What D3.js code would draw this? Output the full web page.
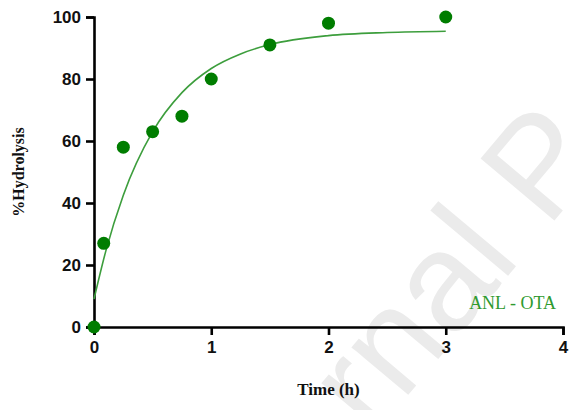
<!DOCTYPE html>
<html>
<head>
<meta charset="utf-8">
<script src="https://cdn.jsdelivr.net/npm/d3@7"></script>
<style>
  body { margin: 0; background: #fff; }
  svg { display: block; }
</style>
</head>
<body>
<div id="chart"></div>
<script>
// measured points (time in h, % hydrolysis)
var timeH = [0, 0.083, 0.25, 0.5, 0.75, 1, 1.5, 2, 3];
var hydrolysis = [0, 27, 58, 63, 68, 80, 91, 98, 100];

// fitted curve
var fitTime = [0, 0.1, 0.25, 0.5, 0.75, 1, 1.25, 1.5, 2, 2.5, 3];
var fitValue = [9, 24.4, 42.5, 63, 75.6, 83.4, 88.1, 91.1, 94.0, 95.0, 95.4];

var xTicks = [0, 1, 2, 3, 4];
var yTicks = [0, 20, 40, 60, 80, 100];

var width = 569, height = 410;
var margin = { top: 17, right: 6, bottom: 83, left: 94 };

var svg = d3.select('#chart').append('svg')
    .attr('width', width)
    .attr('height', height);

// watermark
svg.append('text')
    .attr('transform', 'translate(372,438) rotate(-50)')
    .attr('font-family', 'Liberation Sans, Arial, sans-serif')
    .attr('font-size', 140)
    .attr('fill', '#ebebeb')
    .text('rnal P');

var x = d3.scaleLinear().domain([0, 4]).range([margin.left, width - margin.right]);
var y = d3.scaleLinear().domain([0, 100]).range([height - margin.bottom, margin.top]);

var xAxis = svg.append('g')
    .attr('transform', 'translate(0,' + y(0) + ')')
    .call(d3.axisBottom(x).tickValues(xTicks).tickSize(8).tickPadding(6).tickFormat(d3.format('d')));
var yAxis = svg.append('g')
    .attr('transform', 'translate(' + x(0) + ',0)')
    .call(d3.axisLeft(y).tickValues(yTicks).tickSize(8).tickPadding(5).tickFormat(d3.format('d')));

[xAxis, yAxis].forEach(function (g) {
    g.select('.domain').attr('stroke', '#000').attr('stroke-width', 2.6);
    g.selectAll('.tick line').attr('stroke', '#000').attr('stroke-width', 2.6);
    g.selectAll('.tick text')
        .attr('fill', '#111')
        .attr('font-family', 'Liberation Sans, Arial, sans-serif')
        .attr('font-weight', 'bold')
        .attr('font-size', 17);
});

// fitted line
var line = d3.line()
    .x(function (d, i) { return x(fitTime[i]); })
    .y(function (d) { return y(d); })
    .curve(d3.curveMonotoneX);

svg.append('path')
    .datum(fitValue)
    .attr('d', line)
    .attr('fill', 'none')
    .attr('stroke', '#3d9e3d')
    .attr('stroke-width', 1.6);

svg.selectAll('circle.pt')
    .data(hydrolysis)
    .enter().append('circle')
    .attr('class', 'pt')
    .attr('cx', function (d, i) { return x(timeH[i]); })
    .attr('cy', function (d) { return y(d); })
    .attr('r', 6.5)
    .attr('fill', '#007d00');

// labels
svg.append('text')
    .attr('transform', 'translate(24,172) rotate(-90)')
    .attr('text-anchor', 'middle')
    .attr('font-family', 'Liberation Serif, Times New Roman, serif')
    .attr('font-weight', 'bold')
    .attr('font-size', 16)
    .attr('fill', '#111')
    .text('%Hydrolysis');

svg.append('text')
    .attr('x', x(2))
    .attr('y', 395)
    .attr('text-anchor', 'middle')
    .attr('font-family', 'Liberation Serif, Times New Roman, serif')
    .attr('font-weight', 'bold')
    .attr('font-size', 17)
    .attr('fill', '#111')
    .text('Time (h)');

svg.append('text')
    .attr('x', 556)
    .attr('y', 309)
    .attr('text-anchor', 'end')
    .attr('font-family', 'Liberation Serif, Times New Roman, serif')
    .attr('font-size', 18)
    .attr('fill', '#2f9a2f')
    .text('ANL - OTA');
</script>
</body>
</html>
